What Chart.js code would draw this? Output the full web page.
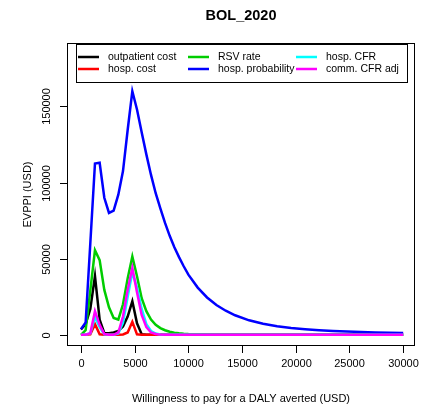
<!DOCTYPE html>
<html>
<head>
<meta charset="utf-8">
<script src="https://cdn.jsdelivr.net/npm/chart.js@4.4.0/dist/chart.umd.min.js"></script>
<style>
	body { margin: 0; background: #fff; }
	#wrap { width: 433px; height: 410px; }
</style>
</head>
<body>
<div id="wrap"><canvas id="evppiChart" width="433" height="410"></canvas></div>
<script>
// willingness to pay grid (USD per DALY averted)
const wtp = [0, 435, 870, 1304, 1739, 2174, 2609, 3043, 3478, 3913, 4348, 4783, 5217, 5652, 6087, 6522, 6957, 7391, 7826, 8261, 8696, 9130, 9565, 10000, 10870, 11739, 12609, 13478, 14348, 15652, 16957, 18261, 19565, 20870, 22174, 23478, 24783, 26087, 27391, 28696, 30000];

const outpatientCost = [3500, 7000, 17000, 38500, 10000, 1100, 1000, 1500, 2500, 5500, 12000, 22000, 7500, 400, 0, 0, 0, 0, 0, 0, 0, 0, 0, 0, 0, 0, 0, 0, 0, 0, 0, 0, 0, 0, 0, 0, 0, 0, 0, 0, 0];
const hospCost = [0, 0, 300, 7000, 300, 0, 0, 0, 0, 200, 1500, 8500, 300, 0, 0, 0, 0, 0, 0, 0, 0, 0, 0, 0, 0, 0, 0, 0, 0, 0, 0, 0, 0, 0, 0, 0, 0, 0, 0, 0, 0];
const rsvRate = [0, 3000, 29000, 55500, 49000, 29500, 18000, 11000, 10000, 20000, 37000, 51500, 38500, 24000, 15500, 10000, 6600, 4400, 3000, 2000, 1400, 1000, 700, 500, 300, 200, 100, 80, 60, 40, 30, 20, 10, 10, 0, 0, 0, 0, 0, 0, 0];
const hospProb = [3700, 8000, 60000, 112500, 113000, 90000, 80000, 81500, 92000, 107500, 134500, 160000, 148000, 133000, 118500, 105000, 93000, 83000, 73500, 65000, 57500, 51000, 45000, 39500, 31000, 24500, 19500, 15800, 12800, 9500, 7200, 5600, 4500, 3700, 3000, 2500, 2100, 1800, 1500, 1300, 1100];
const hospCFR = [0, 0, 1000, 11500, 5000, 300, 0, 0, 800, 8000, 25000, 41000, 31000, 17000, 7000, 2500, 800, 200, 0, 0, 0, 0, 0, 0, 0, 0, 0, 0, 0, 0, 0, 0, 0, 0, 0, 0, 0, 0, 0, 0, 0];
const commCFR = [0, 0, 1000, 15500, 6500, 500, 0, 0, 1500, 12000, 29500, 44000, 28000, 13000, 5000, 1500, 500, 100, 0, 0, 0, 0, 0, 0, 0, 0, 0, 0, 0, 0, 0, 0, 0, 0, 0, 0, 0, 0, 0, 0, 0];

const xTicks = [0, 5000, 10000, 15000, 20000, 25000, 30000];
const yTicks = [0, 50000, 100000, 150000];

const series = [
	{ label: 'outpatient cost', data: outpatientCost, color: '#000000' },
	{ label: 'hosp. cost', data: hospCost, color: '#ff0000' },
	{ label: 'RSV rate', data: rsvRate, color: '#00cd00' },
	{ label: 'hosp. probability', data: hospProb, color: '#0000ff' },
	{ label: 'hosp. CFR', data: hospCFR, color: '#00ffff' },
	{ label: 'comm. CFR adj', data: commCFR, color: '#ff00ff' }
];

const FONT = '"Liberation Sans", Arial, Helvetica, sans-serif';

// R style box, axes, labels and legend
const rStyle = {
	id: 'rStyle',
	afterDatasetsDraw(chart) {
		const { ctx, chartArea: a, scales: { x, y } } = chart;
		ctx.save();
		ctx.strokeStyle = '#000';
		ctx.fillStyle = '#000';
		ctx.lineWidth = 1;

		// box
		ctx.strokeRect(a.left + 0.5, a.top + 0.5, a.right - a.left - 1, a.bottom - a.top - 1);

		ctx.font = '11px ' + FONT;
		ctx.textAlign = 'center';
		ctx.textBaseline = 'middle';

		// x axis
		xTicks.forEach(v => {
			const px = Math.round(x.getPixelForValue(v)) + 0.5;
			ctx.beginPath();
			ctx.moveTo(px, a.bottom);
			ctx.lineTo(px, a.bottom + 7);
			ctx.stroke();
			ctx.fillText(String(v), px, a.bottom + 18);
		});
		ctx.fillText('Willingness to pay for a DALY averted (USD)', (a.left + a.right) / 2, 398.5);

		// y axis
		yTicks.forEach(v => {
			const py = Math.round(y.getPixelForValue(v)) + 0.5;
			ctx.beginPath();
			ctx.moveTo(a.left - 7, py);
			ctx.lineTo(a.left, py);
			ctx.stroke();
			ctx.save();
			ctx.translate(a.left - 20.5, py);
			ctx.rotate(-Math.PI / 2);
			ctx.fillText(String(v), 0, 0);
			ctx.restore();
		});
		ctx.save();
		ctx.translate(27.5, (a.top + a.bottom) / 2);
		ctx.rotate(-Math.PI / 2);
		ctx.fillText('EVPPI (USD)', 0, 0);
		ctx.restore();

		// title
		ctx.font = 'bold 14.5px ' + FONT;
		ctx.fillText('BOL_2020', (a.left + a.right) / 2, 15.5);

		// legend
		const lx = 76, ly = 44, lw = 331, lh = 38;
		ctx.fillStyle = '#fff';
		ctx.fillRect(lx, ly, lw, lh);
		ctx.strokeStyle = '#000';
		ctx.strokeRect(lx + 0.5, ly + 0.5, lw, lh);
		ctx.font = '10.5px ' + FONT;
		ctx.textAlign = 'left';
		const cols = [78, 188, 296];
		const rows = [57, 69];
		series.forEach((s, i) => {
			const cx = cols[Math.floor(i / 2)];
			const cy = rows[i % 2];
			ctx.strokeStyle = s.color;
			ctx.lineWidth = 2.5;
			ctx.beginPath();
			ctx.moveTo(cx, cy);
			ctx.lineTo(cx + 21, cy);
			ctx.stroke();
			ctx.fillStyle = '#000';
			ctx.fillText(s.label, cx + 30, cy);
		});
		ctx.restore();
	}
};

const chart = new Chart(document.getElementById('evppiChart'), {
	type: 'line',
	data: {
		datasets: series.map((s, i) => ({
			label: s.label,
			data: wtp.map((w, j) => ({ x: w, y: s.data[j] })),
			borderColor: s.color,
			backgroundColor: s.color,
			borderWidth: 2.5,
			pointRadius: 0,
			tension: 0,
			fill: false,
			order: series.length - i
		}))
	},
	options: {
		responsive: false,
		animation: false,
		layout: { padding: { left: 67, top: 43, right: 18, bottom: 64 } },
		plugins: {
			legend: { display: false },
			title: { display: false },
			tooltip: { enabled: false }
		},
		scales: {
			x: { type: 'linear', min: -1300, max: 31100, display: false },
			y: { type: 'linear', min: -7370, max: 191650, display: false }
		}
	},
	plugins: [rStyle]
});
</script>
</body>
</html>
